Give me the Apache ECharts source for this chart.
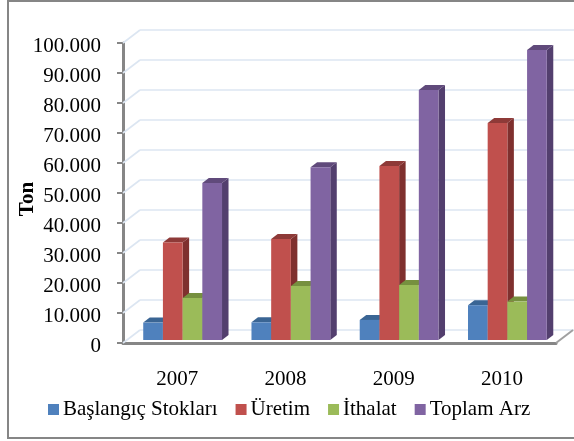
<!DOCTYPE html>
<html>
<head>
<meta charset="utf-8">
<style>
html, body { margin: 0; padding: 0; background: #fff; }
#chart { width: 574px; height: 441px; }
</style>
<script src="https://cdn.jsdelivr.net/npm/echarts@6/dist/echarts.min.js"></script>
</head>
<body>
<div id="chart"></div>
<script>
var years = ['2007', '2008', '2009', '2010'];
var yTicks = [0, 10000, 20000, 30000, 40000, 50000, 60000, 70000, 80000, 90000, 100000];
var baslangic = [5800, 5900, 6700, 11600];
var uretim = [32500, 33700, 58000, 72300];
var ithalat = [14000, 18000, 18300, 12800];
var toplam = [52300, 57600, 83300, 96700];

var chart = echarts.init(document.getElementById('chart'));
var FONT = '"Liberation Serif", serif';
var BAR_W = 19.7, DEPTH_X = 6.5, DEPTH_Y = 5, BASE_UP = 3, SHIFT_X = 5.5;
var WALL_X = 17, WALL_Y = 13;

// fake 3d column: front face, top and right side
function barSeries(name, values, idx, front, top, side) {
    return {
        name: name,
        type: 'custom',
        z: 3 + idx,
        itemStyle: { color: front },
        data: values.map(function (v, i) { return [i, v]; }),
        encode: { x: 0, y: 1 },
        renderItem: function (params, api) {
            var p = api.coord([api.value(0), api.value(1)]);
            var b = api.coord([api.value(0), 0]);
            var x0 = p[0] + SHIFT_X + (idx - 2) * BAR_W;
            var x1 = x0 + BAR_W;
            var y0 = p[1] - BASE_UP;
            var y1 = b[1] - BASE_UP;
            return {
                type: 'group',
                children: [
                    { type: 'polygon', shape: { points: [[x1, y0], [x1 + DEPTH_X, y0 - DEPTH_Y], [x1 + DEPTH_X, y1 - DEPTH_Y], [x1, y1]] }, style: { fill: side } },
                    { type: 'polygon', shape: { points: [[x0, y0], [x0 + DEPTH_X, y0 - DEPTH_Y], [x1 + DEPTH_X, y0 - DEPTH_Y], [x1, y0]] }, style: { fill: top } },
                    { type: 'rect', shape: { x: x0, y: y0, width: BAR_W, height: y1 - y0 }, style: { fill: front } }
                ]
            };
        }
    };
}

// back wall gridlines plus the diagonal on the side wall
var wallSeries = {
    type: 'custom',
    silent: true,
    z: 1,
    data: yTicks.map(function (v) { return [0, v]; }),
    encode: { y: 1 },
    renderItem: function (params, api) {
        var y = api.coord([0, api.value(1)])[1];
        var cs = params.coordSys;
        var style = { stroke: '#dce6f2', lineWidth: 1.6, fill: null };
        return {
            type: 'group',
            children: [
                { type: 'line', shape: { x1: cs.x, y1: y, x2: cs.x + WALL_X, y2: y - WALL_Y }, style: style },
                { type: 'line', shape: { x1: cs.x + WALL_X, y1: y - WALL_Y, x2: cs.x + cs.width + WALL_X + 2, y2: y - WALL_Y }, style: style }
            ]
        };
    }
};

var option = {
    animation: false,
    backgroundColor: '#fff',
    textStyle: { fontFamily: FONT },
    graphic: [
        { type: 'rect', z: 0, shape: { x: 8, y: 1, width: 580, height: 437 }, style: { fill: null, stroke: '#868686', lineWidth: 2 } },
        { type: 'polyline', z: 2, shape: { points: [[556, 343], [573, 330]] }, style: { stroke: '#a0a0a0', lineWidth: 2, fill: null } }
    ],
    grid: { left: 123, top: 43, width: 433, height: 300, outerBoundsMode: 'none' },
    xAxis: {
        type: 'category',
        data: years,
        axisTick: { show: false },
        axisLine: { lineStyle: { color: '#868686', width: 3 } },
        axisLabel: { color: '#000', fontSize: 21, fontFamily: FONT, margin: 26 }
    },
    yAxis: {
        type: 'value',
        min: 0,
        max: 100000,
        interval: 10000,
        name: 'Ton',
        nameLocation: 'middle',
        nameGap: 85,
        nameMoveOverlap: false,
        nameTextStyle: { color: '#000', fontSize: 21, fontWeight: 'bold', fontFamily: FONT, padding: [0, 12, 0, 0] },
        splitLine: { show: false },
        axisLine: { show: true, lineStyle: { color: '#868686', width: 3 } },
        axisTick: { show: true, length: 6, lineStyle: { color: '#868686', width: 2 } },
        axisLabel: {
            color: '#000',
            fontSize: 21,
            fontFamily: FONT,
            margin: 22,
            rich: {
                v: { fontSize: 21, fontFamily: FONT, color: '#000', padding: [7, 0, 0, 0] }
            },
            formatter: function (v) {
                return '{v|' + String(v).replace(/\B(?=(\d{3})+$)/g, '.') + '}';
            }
        }
    },
    legend: {
        data: ['Başlangıç Stokları', 'Üretim', 'İthalat', 'Toplam Arz'],
        left: 43,
        top: 394,
        icon: 'rect',
        itemWidth: 11,
        itemHeight: 11,
        itemGap: 18,
        textStyle: { color: '#000', fontSize: 21, fontFamily: FONT, padding: [0, 0, 0, -1] }
    },
    series: [
        wallSeries,
        barSeries('Başlangıç Stokları', baslangic, 0, '#4f81bd', '#3a6594', '#37608f'),
        barSeries('Üretim', uretim, 1, '#c0504d', '#8e3a38', '#7f302e'),
        barSeries('İthalat', ithalat, 2, '#9bbb59', '#76903f', '#6f8a3a'),
        barSeries('Toplam Arz', toplam, 3, '#8064a2', '#604a7b', '#533f6e')
    ]
};

chart.setOption(option);
</script>
</body>
</html>
